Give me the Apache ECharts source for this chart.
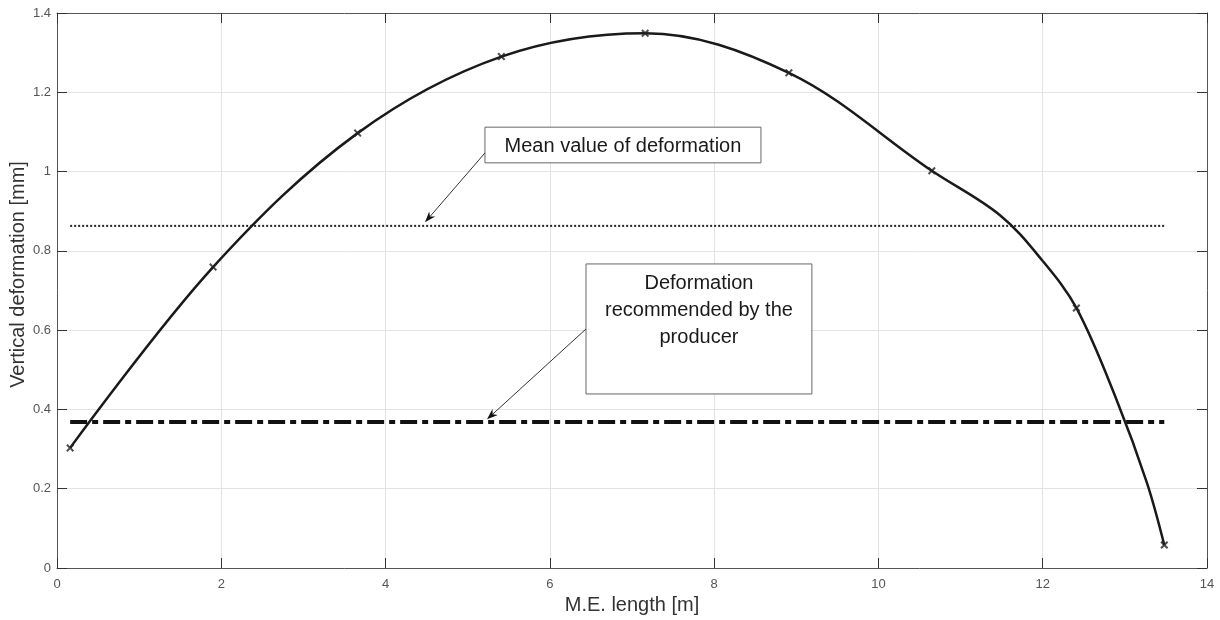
<!DOCTYPE html>
<html>
<head>
<meta charset="utf-8">
<script src="https://cdn.jsdelivr.net/npm/echarts@6/dist/echarts.min.js"></script>
<style>
  html, body { margin: 0; padding: 0; background: #fff; }
  #chart { width: 1220px; height: 620px; }
</style>
</head>
<body>
<div id="chart"></div>
<script>
// ---- data ----
// measured points (x markers)
const xLength = [0.16, 1.90, 3.66, 5.41, 7.16, 8.91, 10.65, 12.41, 13.48];
const deformation = [0.303, 0.759, 1.097, 1.290, 1.349, 1.249, 1.002, 0.656, 0.058];
// fitted curve, points
const curveX = [0.16, 1.90, 3.66, 5.41, 7.16, 8.91, 10.65, 11.48, 11.99, 12.41, 12.90, 13.27, 13.48];
const curveY = [0.303, 0.759, 1.097, 1.290, 1.349, 1.249, 1.002, 0.890, 0.777, 0.656, 0.424, 0.214, 0.058];
const meanValue = 0.863;
const recommendedValue = 0.368;
const refLineX = [0.16, 13.48];
const xTicks = [0, 2, 4, 6, 8, 10, 12, 14];
const yTicks = [0, 0.2, 0.4, 0.6, 0.8, 1, 1.2, 1.4];
const meanLabel = 'Mean value of deformation';
const recLabel = 'Deformation\nrecommended by the\nproducer';

// ---- annotation placement (data coordinates) ----
const ann1 = { box: [5.21, 1.112, 8.57, 1.022], from: [5.21, 1.047], to: [4.48, 0.872] };
const ann2 = { box: [6.44, 0.767, 9.19, 0.439], from: [6.44, 0.603], to: [5.235, 0.375] };

const markerPts = xLength.map((x, i) => [x, deformation[i]]);
const curvePts = curveX.map((x, i) => [x, curveY[i]]);
const meanPts = refLineX.map(x => [x, meanValue]);
const recPts = refLineX.map(x => [x, recommendedValue]);

const FONT = 'Liberation Sans, Arial, sans-serif';
const xMark = 'path://M0,1.8 L1.8,0 L5,3.2 L8.2,0 L10,1.8 L6.8,5 L10,8.2 L8.2,10 L5,6.8 L1.8,10 L0,8.2 L3.2,5 Z';

const chart = echarts.init(document.getElementById('chart'), null, { renderer: 'canvas' });

function axisBase() {
  return {
    type: 'value',
    axisLine: { show: true, onZero: false, lineStyle: { color: '#555', width: 1 } },
    axisTick: { show: true, inside: true, length: 10, lineStyle: { color: '#333', width: 1 } },
    splitLine: { show: false },
    axisLabel: { show: false }
  };
}

const option = {
  backgroundColor: '#ffffff',
  animation: false,
  grid: { left: 57, right: 13, top: 13, bottom: 52, containLabel: false, outerBoundsMode: 'none' },
  xAxis: [
    Object.assign(axisBase(), {
      position: 'bottom', min: 0, max: 14, interval: 2,
      splitLine: { show: true, lineStyle: { color: '#e3e3e3', width: 1 } },
      axisLabel: { show: true, color: '#555', fontSize: 13, fontFamily: FONT, margin: 10,
        formatter: v => (xTicks.includes(v) ? String(v) : '') },
      name: 'M.E. length [m]', nameLocation: 'middle', nameGap: 27, nameMoveOverlap: false,
      nameTextStyle: { color: '#333', fontSize: 20, fontFamily: FONT }
    }),
    Object.assign(axisBase(), { position: 'top', min: 0, max: 14, interval: 2 })
  ],
  yAxis: [
    Object.assign(axisBase(), {
      position: 'left', min: 0, max: 1.4, interval: 0.2,
      splitLine: { show: true, lineStyle: { color: '#e3e3e3', width: 1 } },
      axisLabel: { show: true, color: '#555', fontSize: 13, fontFamily: FONT, margin: 6,
        formatter: v => { const t = yTicks.find(k => Math.abs(k - v) < 1e-9); return t === undefined ? '' : String(t); } },
      name: 'Vertical deformation [mm]', nameLocation: 'middle', nameGap: 29, nameRotate: 90, nameMoveOverlap: false,
      nameTextStyle: { color: '#333', fontSize: 20, fontFamily: FONT, padding: [0, 0, 0, 32] }
    }),
    Object.assign(axisBase(), { position: 'right', min: 0, max: 1.4, interval: 0.2 })
  ],
  series: [
    {
      type: 'line', data: meanPts, xAxisIndex: 0, yAxisIndex: 0,
      symbol: 'none', silent: true,
      lineStyle: { color: '#222', width: 2, type: [2, 2] }
    },
    {
      type: 'line', data: recPts, xAxisIndex: 0, yAxisIndex: 0,
      symbol: 'none', silent: true,
      lineStyle: { color: '#111', width: 4, type: [17, 5, 6, 5] }
    },
    {
      type: 'line', data: curvePts, xAxisIndex: 0, yAxisIndex: 0,
      smooth: 0.35, symbol: 'none',
      lineStyle: { color: '#1a1a1a', width: 2.5 },
      z: 5
    },
    {
      type: 'scatter', data: markerPts, xAxisIndex: 0, yAxisIndex: 0,
      symbol: xMark, symbolSize: 8,
      itemStyle: { color: '#222' },
      z: 6
    }
  ]
};
chart.setOption(option);

function px(p) { return chart.convertToPixel({ xAxisIndex: 0, yAxisIndex: 0 }, p); }

function annotation(a, label, textTopPad, lineHeight) {
  const tl = px([a.box[0], a.box[1]]);
  const br = px([a.box[2], a.box[3]]);
  const f = px(a.from), t = px(a.to);
  const ang = Math.atan2(t[1] - f[1], t[0] - f[0]);
  const L = 11, W = 4;
  const bx = t[0] - L * Math.cos(ang), by = t[1] - L * Math.sin(ang);
  const nx = -Math.sin(ang), ny = Math.cos(ang);
  return [
    { type: 'rect', shape: { x: tl[0], y: tl[1], width: br[0] - tl[0], height: br[1] - tl[1] },
      style: { fill: '#fff', stroke: '#666', lineWidth: 1 }, z: 100 },
    { type: 'text', x: (tl[0] + br[0]) / 2, y: tl[1] + textTopPad,
      style: { text: label, fill: '#1a1a1a', font: '20px ' + FONT, textAlign: 'center', textVerticalAlign: 'top', lineHeight: lineHeight },
      z: 101 },
    { type: 'line', shape: { x1: f[0], y1: f[1], x2: bx + 0.3 * L * Math.cos(ang), y2: by + 0.3 * L * Math.sin(ang) },
      style: { stroke: '#333', lineWidth: 1 }, z: 100 },
    { type: 'polygon', shape: { points: [[t[0], t[1]], [bx + nx * W, by + ny * W], [bx + 0.3 * L * Math.cos(ang), by + 0.3 * L * Math.sin(ang)], [bx - nx * W, by - ny * W]] },
      style: { fill: '#111' }, z: 100 }
  ];
}

chart.setOption({
  graphic: [].concat(
    annotation(ann1, meanLabel, 7, 24),
    annotation(ann2, recLabel, 6, 27)
  )
});
</script>
</body>
</html>
